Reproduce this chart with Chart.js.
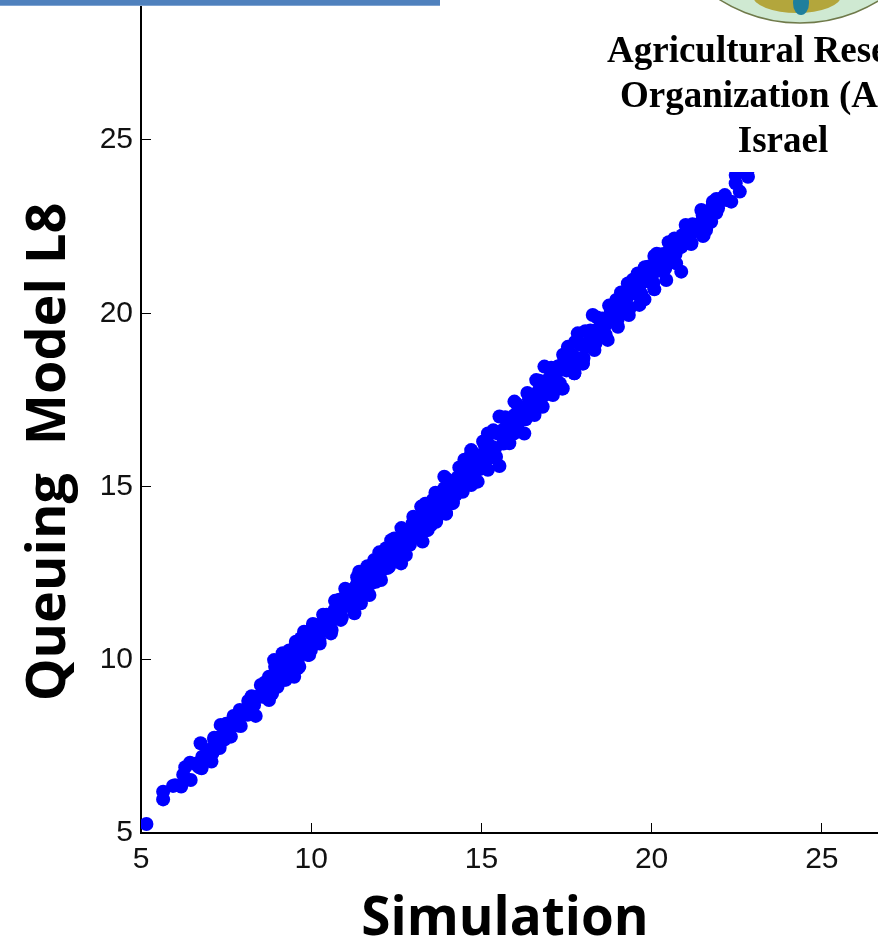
<!DOCTYPE html>
<html>
<head>
<meta charset="utf-8">
<script src="https://cdn.jsdelivr.net/npm/chart.js@4"></script>
<style>
html, body { margin: 0; padding: 0; background: #fff; overflow: hidden; }
canvas { display: block; }
</style>
</head>
<body>
<canvas id="scatterChart" width="878" height="941"></canvas>
<script>
const xTitle = 'Simulation'
const yTitle = 'Queuing  Model L8'
const bannerLines = ['Agricultural Rese', 'Organization (A', 'Israel']

const simulation = [
  5.16, 5.65, 5.65, 5.94, 6.18, 6.24, 6.46, 6.44,
  6.75, 6.78, 6.80, 7.07, 7.15, 7.10, 7.31, 7.34,
  7.51, 7.64, 7.72, 7.93, 7.83, 8.15, 8.13, 8.37,
  8.32, 8.52, 8.57, 8.76, 8.72, 8.76, 9.01, 8.96,
  8.91, 8.94, 9.21, 9.25, 9.50, 9.25, 9.60, 9.16,
  9.45, 9.55, 9.55, 9.94, 9.79, 10.24,
  9.50, 9.65, 9.55, 9.79, 9.99, 9.99, 10.19, 10.58,
  10.38, 10.43, 10.68, 10.82, 10.87, 11.02, 11.27, 11.12,
  11.46, 11.41, 11.36, 11.71, 11.71, 12.05, 11.85, 11.95,
  12.20, 12.29, 12.64, 12.44, 12.44, 12.78, 12.74, 12.74,
  12.98, 13.03, 13.27, 13.42, 13.23, 13.27, 13.67, 13.96,
  13.57, 14.16,
  13.52, 13.67, 13.57, 13.96, 13.91, 13.91, 13.86, 14.16,
  14.45, 14.30, 14.89, 14.70, 14.50, 14.70, 14.60, 15.19,
  15.53, 14.94, 15.19, 15.14, 15.43, 15.82, 15.53, 15.63,
  16.26, 15.97, 15.97, 16.02, 16.41, 16.41, 16.56, 16.80,
  16.61, 16.71, 17.10, 16.85, 17.05, 17.39, 17.24, 17.73,
  17.98, 17.59,
  17.37, 17.73, 17.44, 17.98, 17.54, 17.68, 17.83, 17.98,
  18.32, 18.27, 18.71, 18.52, 18.27, 19.01, 18.76, 18.96,
  19.01, 19.33, 19.30, 19.30, 19.64, 19.79, 19.59, 19.64,
  20.08, 19.89, 19.99, 20.43, 20.08, 20.28, 20.43, 20.72,
  20.87, 20.67, 20.87, 21.16, 21.51, 21.16, 21.60,
  22.83, 22.47, 22.47, 22.59, 22.34, 22.15, 21.80, 21.46,
  21.75, 21.53, 21.41, 21.17, 21.17, 22.20, 21.60, 21.31,
  20.87, 22.47, 22.83,
  6.00, 6.60, 6.95, 7.30, 7.70, 8.05, 8.45, 8.85,
  9.15, 9.40, 9.70, 10.00, 10.30, 10.60, 10.95, 11.25,
  11.55, 11.90, 12.20, 12.55, 12.90, 13.20, 13.55, 13.85,
  14.20, 14.55, 14.90, 15.25, 15.55, 15.90, 16.25, 16.60,
  16.95, 17.30, 17.65, 18.00, 18.35, 18.70, 19.05, 19.40,
  19.75, 20.10, 20.50, 20.95, 21.35, 21.70, 22.10,
  6.30, 7.15, 7.50, 7.90, 8.25, 8.65, 9.05, 9.30,
  9.60, 9.90, 10.15, 10.45, 10.80, 11.10, 11.40, 11.75,
  12.05, 12.35, 12.70, 13.05, 13.35, 13.70, 14.05, 14.40,
  14.75, 15.10, 15.40, 15.75, 16.10, 16.45, 16.80, 17.15,
  17.50, 17.85, 18.20, 18.55, 18.90, 19.25, 19.60, 19.95,
  20.30, 20.70, 21.10, 21.50, 21.90,
  6.70, 7.10, 7.45, 7.85, 8.25, 8.65, 9.00, 9.30,
  9.60, 9.85, 10.15, 10.45, 10.80, 11.10, 11.40, 11.75,
  12.05, 12.40, 12.75, 13.05, 13.40, 13.70, 14.05, 14.40,
  14.75, 15.05, 15.40, 15.75, 16.10, 16.40, 16.80, 17.15,
  17.50, 17.85, 18.15, 18.55, 18.90, 19.25, 19.60, 19.95,
  20.30, 20.70, 21.10, 21.50, 21.90,
  9.05, 9.35, 9.70, 10.05, 10.35, 10.70, 11.00, 11.35,
  11.65, 12.00, 12.35, 12.65, 13.00, 13.35, 13.65, 14.00,
  14.35, 14.70, 15.05, 15.35, 15.70, 16.05, 16.35, 16.70,
  17.05, 17.40, 17.75, 18.05, 18.40, 18.75, 19.10, 19.45,
  19.80, 20.15, 20.50, 21.00,
  8.85, 9.20, 9.55, 9.90, 10.25, 10.60, 10.90, 11.25,
  11.60, 11.90, 12.25, 12.60, 12.90, 13.25, 13.60, 13.95,
  14.25, 14.60, 14.95, 15.30, 15.65, 15.95, 16.30, 16.65,
  17.00, 17.30, 17.65, 18.00, 18.35, 18.65, 19.00, 19.35,
  19.70, 20.05, 20.40,
  9.20, 9.50, 9.80, 10.10, 10.40, 10.70, 11.00, 11.30,
  11.60, 11.90, 12.20, 12.50, 12.80, 13.10, 13.40, 13.70,
  14.00, 14.30, 14.60, 14.90, 15.20, 15.50, 15.80, 16.10,
  16.40, 16.70, 17.00, 17.30, 17.60, 17.90, 18.20, 18.50,
  18.80, 19.10, 19.40, 19.70, 20.00, 20.30, 20.60, 20.90,
  21.20, 21.50, 21.80,
  9.35, 9.65, 9.95, 10.25, 10.55, 10.85, 11.15, 11.45,
  11.75, 12.05, 12.35, 12.65, 12.95, 13.25, 13.55, 13.85,
  14.15, 14.45, 14.75, 15.05, 15.35, 15.65, 15.95, 16.25,
  16.55, 16.85, 17.15, 17.45, 17.75, 18.05, 18.35, 18.65,
  18.95, 19.25, 19.55, 19.85, 20.15, 20.45, 20.75, 21.05,
  21.35, 21.65, 21.95
]

const queuingModel = [
  5.26, 5.97, 6.19, 6.36, 6.34, 6.68, 6.53, 7.03,
  7.59, 6.87, 7.20, 7.06, 7.70, 7.45, 7.45, 8.12,
  7.88, 7.78, 8.38, 8.09, 8.26, 8.81, 8.41, 8.38,
  8.69, 9.27, 8.93, 8.84, 9.18, 9.51, 9.22, 9.56,
  9.99, 9.80, 9.99, 9.42, 9.51, 9.70, 9.75, 10.19,
  10.28, 9.99, 10.52, 10.14, 10.38, 10.57,
  9.71, 9.80, 10.48, 10.81, 10.28, 10.86, 10.48, 10.76,
  11.24, 10.91, 11.39, 11.73, 11.15, 12.01, 11.34, 11.63,
  11.63, 12.54, 12.21, 11.87, 12.40, 12.30, 12.88, 12.59,
  13.22, 12.69, 12.78, 13.50, 13.07, 13.02, 13.74, 13.41,
  13.94, 13.55, 13.41, 13.74, 14.42, 14.13, 13.98, 14.23,
  14.42, 14.56,
  13.89, 14.03, 14.61, 14.21, 15.28, 14.95, 14.52, 14.52,
  14.85, 15.09, 15.14, 15.04, 15.77, 16.05, 15.43, 15.48,
  15.59, 15.77, 16.53, 16.20, 15.86, 16.25, 17.02, 16.63,
  16.53, 17.45, 17.06, 16.68, 17.64, 17.26, 17.06, 17.30,
  18.07, 17.69, 17.64, 18.46, 18.07, 17.83, 18.46, 18.27,
  18.55, 18.60,
  17.83, 18.27, 18.70, 18.55, 19.03, 18.79, 19.42, 19.08,
  18.94, 19.42, 19.23, 19.71, 19.95, 19.61, 19.80, 20.38,
  20.09, 19.95, 20.86, 20.48, 20.24, 20.40, 21.15, 20.77,
  20.69, 21.34, 21.05, 20.96, 21.65, 21.34, 21.73, 21.44,
  21.20, 22.16, 21.92, 22.00, 22.23, 22.30, 22.40,
  23.94, 23.99, 23.75, 23.51, 23.22, 23.41, 23.22, 22.98,
  22.64, 22.26, 22.59, 22.02, 22.40, 23.27, 22.84, 22.45,
  21.92, 24.20, 24.15,
  6.38, 7.00, 7.38, 7.76, 8.12, 8.55, 8.95, 9.38,
  9.65, 9.95, 10.20, 10.60, 10.90, 11.25, 11.60, 11.95,
  12.25, 12.60, 12.90, 13.30, 13.65, 14.00, 14.30, 14.70,
  15.05, 15.40, 15.85, 16.10, 16.50, 16.80, 17.20, 17.55,
  17.95, 18.35, 18.65, 19.10, 19.50, 19.85, 20.25, 20.60,
  20.95, 21.30, 21.60, 22.00, 22.55, 22.95, 23.35,
  6.90, 7.75, 8.15, 8.55, 8.95, 9.35, 9.80, 10.05,
  10.35, 10.70, 11.00, 11.30, 11.65, 12.00, 12.30, 12.70,
  13.00, 13.30, 13.65, 14.05, 14.35, 14.70, 15.05, 15.45,
  15.85, 16.20, 16.55, 16.85, 17.30, 17.65, 18.00, 18.40,
  18.75, 19.15, 19.50, 19.85, 20.25, 20.60, 21.00, 21.35,
  21.70, 22.05, 22.50, 22.95, 23.30,
  6.90, 7.30, 7.70, 8.10, 8.50, 8.95, 9.30, 9.65,
  9.95, 10.20, 10.50, 10.85, 11.20, 11.55, 11.85, 12.20,
  12.55, 12.90, 13.30, 13.60, 13.95, 14.30, 14.65, 15.00,
  15.40, 15.75, 16.10, 16.50, 16.85, 17.15, 17.60, 17.95,
  18.35, 18.70, 19.05, 19.45, 19.80, 20.20, 20.55, 20.90,
  21.25, 21.70, 22.10, 22.50, 22.90,
  9.95, 10.27, 10.62, 11.03, 11.30, 11.70, 12.05, 12.38,
  12.70, 13.10, 13.45, 13.80, 14.13, 14.50, 14.82, 15.20,
  15.55, 15.93, 16.30, 16.62, 17.00, 17.37, 17.70, 18.05,
  18.43, 18.80, 19.17, 19.48, 19.88, 20.22, 20.60, 20.97,
  21.33, 21.72, 22.05, 22.55,
  9.02, 9.42, 9.75, 10.14, 10.47, 10.86, 11.22, 11.56,
  11.95, 12.25, 12.65, 12.98, 13.32, 13.67, 14.07, 14.41,
  14.76, 15.10, 15.50, 15.84, 16.24, 16.53, 16.94, 17.28,
  17.67, 17.98, 18.37, 18.71, 19.12, 19.38, 19.81, 20.13,
  20.55, 20.88, 21.29,
  9.87, 10.18, 10.53, 10.82, 11.12, 11.46, 11.80, 12.10,
  12.40, 12.75, 13.05, 13.35, 13.70, 14.01, 14.30, 14.66,
  14.96, 15.26, 15.62, 15.90, 16.23, 16.57, 16.85, 17.19,
  17.52, 17.80, 18.14, 18.48, 18.76, 19.10, 19.41, 19.75,
  20.03, 20.37, 20.70, 20.98, 21.32, 21.66, 21.93, 22.25,
  22.57, 22.83, 23.15,
  9.77, 10.12, 10.41, 10.76, 11.05, 11.40, 11.68, 12.03,
  12.32, 12.67, 12.95, 13.30, 13.60, 13.94, 14.22, 14.58,
  14.86, 15.21, 15.50, 15.85, 16.13, 16.48, 16.77, 17.12,
  17.40, 17.75, 18.04, 18.40, 18.68, 19.03, 19.31, 19.67,
  19.95, 20.30, 20.58, 20.94, 21.22, 21.57, 21.85, 22.10,
  22.37, 22.68, 23.03
]

const points = simulation.map((x, i) => ({ x: x, y: queuingModel[i] }))

// bits of the slide that sit around the plot
const slideParts = {
  id: 'slideParts',
  afterDraw(chart) {
    const c = chart.ctx
    c.save()

    // white text box hides the top of the point cloud
    c.fillStyle = '#fff'
    c.fillRect(590, 0, 288, 172)

    // top banner
    c.fillStyle = '#4f81bd'
    c.fillRect(0, 0, 440, 6)
    c.fillStyle = '#7fa4d2'
    c.fillRect(0, 5, 440, 1)

    // logo, only its lower edge is on the slide
    c.beginPath()
    c.arc(800, -127, 150, 0, Math.PI * 2)
    c.fillStyle = '#cfe9d2'
    c.fill()
    c.lineWidth = 1.5
    c.strokeStyle = '#6f7a4a'
    c.stroke()
    c.beginPath()
    c.ellipse(797, -4, 44, 17, 0, 0, Math.PI * 2)
    c.fillStyle = '#b3a63c'
    c.fill()
    c.beginPath()
    c.ellipse(801, 3, 8, 12, 0, 0, Math.PI * 2)
    c.fillStyle = '#1f7f9c'
    c.fill()

    // organisation name
    c.fillStyle = '#000'
    c.font = 'bold 37px "Liberation Serif"'
    c.textAlign = 'left'
    c.textBaseline = 'alphabetic'
    c.fillText(bannerLines[0], 607, 62)
    c.fillText(bannerLines[1], 620, 107)
    c.textAlign = 'center'
    c.fillText(bannerLines[2], 783, 152)

    // axis titles
    c.font = 'bold 53px "Open Sans"'
    c.textBaseline = 'middle'
    c.fillText(xTitle, 505, 920)
    c.translate(50, 452)
    c.rotate(-Math.PI / 2)
    c.font = 'bold 54px "Open Sans"'
    c.fillText(yTitle, 0, 0)
    c.restore()
  }
}

const ctx = document.getElementById('scatterChart')
const scatterChart = new Chart(ctx, {
  type: 'scatter',
  data: {
    datasets: [{
      label: 'Queuing Model L8',
      data: points,
      backgroundColor: '#0000ff',
      borderColor: '#0000ff',
      pointRadius: 7,
      pointBorderWidth: 0
    }]
  },
  options: {
    responsive: false,
    animation: false,
    layout: { padding: 0, autoPadding: false },
    plugins: {
      legend: { display: false },
      tooltip: { enabled: false }
    },
    scales: {
      x: {
        type: 'linear',
        min: 5,
        max: 26.65,
        afterFit: scale => {
          scale.height = 108
          scale.paddingLeft = 0
          scale.paddingRight = 0
        },
        border: { color: '#000', width: 2 },
        grid: { drawOnChartArea: false, tickLength: -10, tickColor: '#000', tickWidth: 1 },
        ticks: {
          stepSize: 5,
          includeBounds: false,
          autoSkip: false,
          maxRotation: 0,
          padding: 19,
          color: '#111',
          font: { family: '"Liberation Sans"', size: 30 }
        }
      },
      y: {
        type: 'linear',
        min: 5,
        max: 29.04,
        afterFit: scale => {
          scale.width = 141
          scale.paddingTop = 0
          scale.paddingBottom = 0
        },
        border: { color: '#000', width: 2 },
        grid: { drawOnChartArea: false, tickLength: -10, tickColor: '#000', tickWidth: 1 },
        ticks: {
          stepSize: 5,
          includeBounds: false,
          autoSkip: false,
          padding: 18,
          color: '#111',
          font: { family: '"Liberation Sans"', size: 30 }
        }
      }
    }
  },
  plugins: [slideParts]
})
</script>
</body>
</html>
